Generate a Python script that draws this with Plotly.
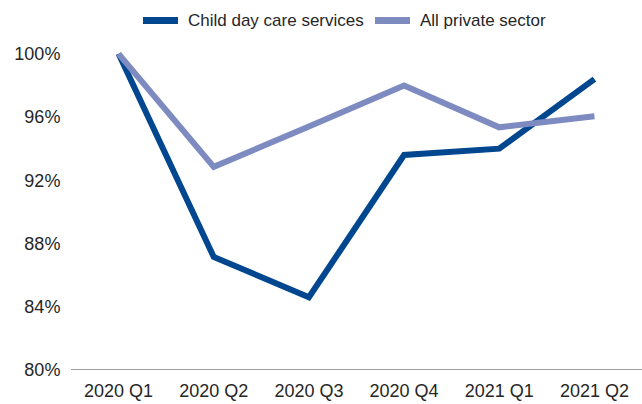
import plotly.graph_objects as go

categories = ["2020 Q1", "2020 Q2", "2020 Q3", "2020 Q4", "2021 Q1", "2021 Q2"]
child_care = [100.0, 87.15, 84.6, 93.6, 94.0, 98.4]
all_private = [100.0, 92.85, 95.4, 98.0, 95.35, 96.05]
y_ticks = [80, 84, 88, 92, 96, 100]
series_names = ["Child day care services", "All private sector"]
series_colors = ["#00478F", "#7D8BC0"]

x_pos = list(range(len(categories)))

fig = go.Figure()
for name, vals, col in zip(series_names, [child_care, all_private], series_colors):
    fig.add_trace(go.Scatter(
        x=x_pos, y=vals, mode="lines", name=name,
        line=dict(color=col, width=6), cliponaxis=False, showlegend=False,
    ))

font_family = "Liberation Sans, Arial, sans-serif"
text_color = "#262626"

# plot area geometry (pixels) for placing the custom legend
L, R, T, B, W, H = 71, 0, 38, 34, 642, 404
pw, ph = W - L - R, H - T - B
def px_x(p):
    return (p - L) / pw
def px_y(p):
    return (H - B - p) / ph

legend_y = px_y(20.5)
legend_items = [(143, 178, 186), (375, 410, 418)]
shapes = [dict(
    type="line", xref="paper", yref="y", x0=0, x1=1, y0=80, y1=80,
    line=dict(color="#A0A0A0", width=2), layer="below",
)]
annotations = []
for (s0, s1, tx), name, col in zip(legend_items, series_names, series_colors):
    shapes.append(dict(
        type="line", xref="paper", yref="paper",
        x0=px_x(s0), x1=px_x(s1), y0=legend_y, y1=legend_y,
        line=dict(color=col, width=7),
    ))
    annotations.append(dict(
        xref="paper", yref="paper", x=px_x(tx), y=legend_y,
        xanchor="left", yanchor="middle", text=name, showarrow=False,
        font=dict(size=17, color=text_color, family=font_family),
    ))

fig.update_layout(
    width=W, height=H,
    margin=dict(l=L, r=R, t=T, b=B),
    paper_bgcolor="white", plot_bgcolor="white",
    font=dict(family=font_family, size=18, color=text_color),
    showlegend=False,
    xaxis=dict(
        range=[-0.5, 5.5], tickmode="array", tickvals=x_pos, ticktext=categories,
        showgrid=False, zeroline=False, showline=False,
        ticks="outside", ticklen=4, tickcolor="rgba(0,0,0,0)",
        tickfont=dict(size=18), fixedrange=True,
    ),
    yaxis=dict(
        range=[80, 101], tickmode="array", tickvals=y_ticks,
        ticktext=[f"{v}%" for v in y_ticks],
        showgrid=False, zeroline=False, showline=False,
        ticks="outside", ticklen=6, tickcolor="rgba(0,0,0,0)",
        tickfont=dict(size=18), fixedrange=True,
    ),
    shapes=shapes,
    annotations=annotations,
)

fig.write_html("out.html")
